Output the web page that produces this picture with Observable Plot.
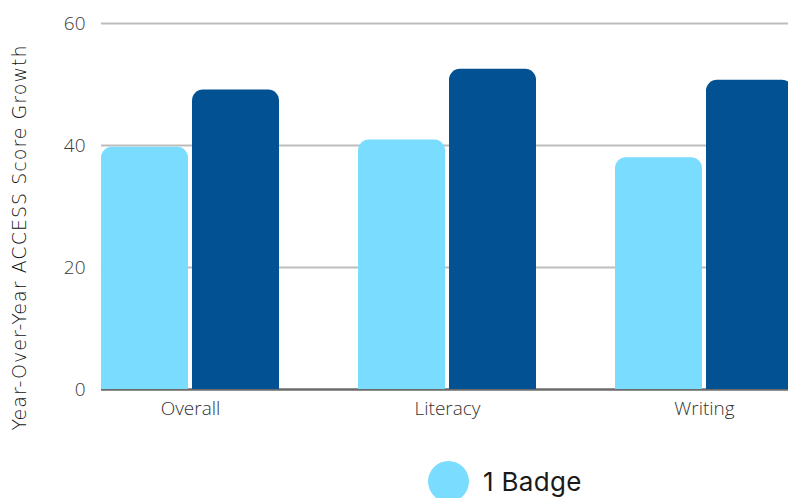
<!DOCTYPE html>
<html>
<head>
<meta charset="utf-8">
<script src="https://cdn.jsdelivr.net/npm/d3@7"></script>
<script src="https://cdn.jsdelivr.net/npm/@observablehq/plot@0.6"></script>
<style>
  html, body { margin: 0; padding: 0; background: #fff; overflow: hidden; width: 788px; height: 498px; }
  #chart svg { display: block; }
  .legend { margin-left: 428px; margin-top: 21px; display: flex; flex-direction: column; gap: 10px; }
  .item { display: flex; align-items: center; gap: 14px; font-family: Inter, sans-serif; font-size: 26px; line-height: 30px; color: #1a1a1a; letter-spacing: 0.3px; }
  .swatch { width: 41px; height: 41px; border-radius: 50%; flex: none; }
</style>
</head>
<body>
<div id="chart"></div>
<script>
const categories = ["Overall", "Literacy", "Writing"];
const oneBadge = [39.7, 40.9, 38.0];
const twoBadges = [49.1, 52.5, 50.7];
const seriesNames = ["1 Badge", "2+ Badges"];
const seriesColors = ["#7adcfe", "#025192"];
const yTicks = [0, 20, 40, 60];
const yTitle = "Year-Over-Year ACCESS Score Growth";

const light = categories.map((c, i) => ({category: c, value: oneBadge[i]}));
const dark = categories.map((c, i) => ({category: c, value: twoBadges[i]}));

const chart = Plot.plot({
  width: 788,
  height: 440,
  marginLeft: 101,
  marginRight: 0,
  marginTop: 23,
  marginBottom: 51,
  style: {fontFamily: "'Open Sans', sans-serif", fontSize: "19px", color: "#444", fontWeight: 300},
  x: {domain: categories, range: [101, 793], paddingInner: 0.3074, paddingOuter: 0, label: null, tickSize: 0, tickPadding: 12},
  y: {domain: [0, 60], ticks: yTicks, label: null, tickSize: 0, tickPadding: 16},
  marks: [
    Plot.ruleY(yTicks.filter(t => t > 0), {stroke: "#bdbdbd", strokeWidth: 2}),
    Plot.ruleY([0], {stroke: "#6b6b6b", strokeWidth: 2.5}),
    Plot.barY(light, {x: "category", y: "value", fill: seriesColors[0], insetRight: 91, rx: 11}),
    Plot.barY(light, {x: "category", y: d => d.value / 2, fill: seriesColors[0], insetRight: 91}),
    Plot.barY(dark, {x: "category", y: "value", fill: seriesColors[1], insetLeft: 91, rx: 11}),
    Plot.barY(dark, {x: "category", y: d => d.value / 2, fill: seriesColors[1], insetLeft: 91}),
    Plot.axisY({ticks: yTicks, tickSize: 0, tickPadding: 16, label: null, fill: "#3a3a3a"}),
    Plot.axisX({tickSize: 0, tickPadding: 12, label: null, fill: "#333"}),
    Plot.text([yTitle], {frameAnchor: "left", rotate: -90, textAnchor: "start", dx: -82, dy: 224, fill: "#111",
      fontFamily: "'DejaVu Sans', sans-serif", fontSize: 19, fontWeight: 300, className: "ytitle"})
  ]
});
document.getElementById("chart").appendChild(chart);

const t = chart.querySelector(".ytitle text");
if (t) { t.setAttribute("textLength", 385); t.setAttribute("lengthAdjust", "spacing"); }

const legend = document.createElement("div");
legend.className = "legend";
seriesNames.forEach((name, i) => {
  const item = document.createElement("div");
  item.className = "item";
  const sw = document.createElement("span");
  sw.className = "swatch";
  sw.style.background = seriesColors[i];
  const label = document.createElement("span");
  label.textContent = name;
  item.appendChild(sw);
  item.appendChild(label);
  legend.appendChild(item);
});
document.body.appendChild(legend);
</script>
</body>
</html>
